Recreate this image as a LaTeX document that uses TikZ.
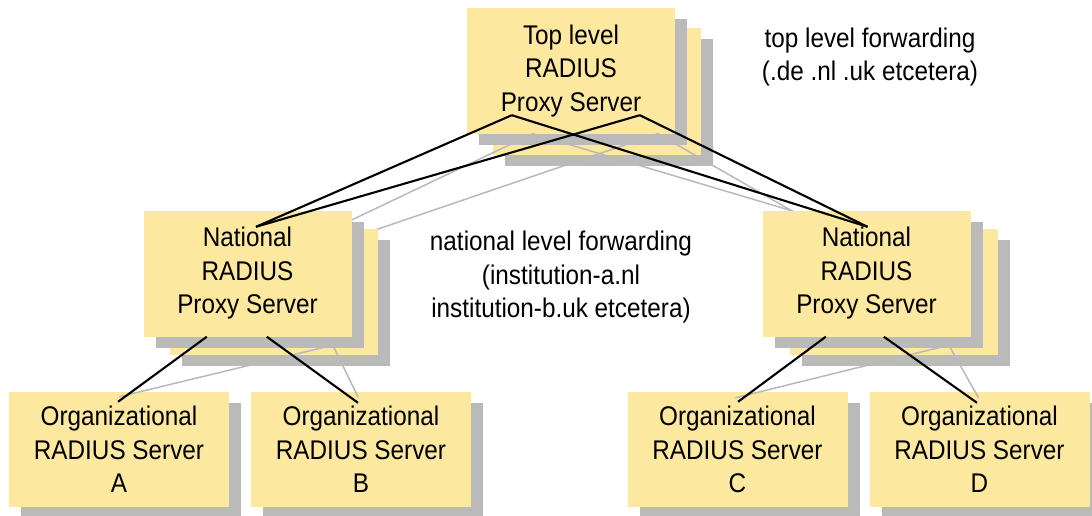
\documentclass[tikz,border=0pt]{standalone}
\usepackage{fontspec}
\setmainfont{Liberation Sans}[FakeStretch=0.9]
\usetikzlibrary{calc,shadows}
\definecolor{boxyellow}{RGB}{252,232,158}
\definecolor{shadowgray}{RGB}{186,186,186}
\definecolor{linegray}{RGB}{185,185,185}
\tikzset{
  srvbox/.style={fill=boxyellow, draw=none, inner sep=0pt,
    minimum width=208pt, minimum height=126pt, align=center,
    font=\fontsize{27}{33.5}\selectfont,
    drop shadow={shadow xshift=12pt, shadow yshift=-11pt, fill=shadowgray, opacity=1}},
  orgbox/.style={srvbox, minimum width=220pt, minimum height=115pt},
  blackline/.style={draw=black, line width=2.1pt},
  grayline/.style={draw=linegray, line width=1.5pt},
  lbl/.style={align=center, inner sep=0pt, font=\fontsize{27}{33.5}\selectfont}
}
\begin{document}
\begin{tikzpicture}[x=1pt,y=-1pt]
\useasboundingbox (0,0) rectangle (1092,516);

% top level stack
\node[srvbox] (topb) at (597,91.5) {};
\node[srvbox] (top) at (571,71) {Top level\\RADIUS\\Proxy Server};

% gray connectors of the back layer (top -> national)
\coordinate (gs1) at ($(topb.south west)+(40,-21)$);
\coordinate (gs2) at ($(topb.south west)+(165,-21)$);
\coordinate (gL1) at ($(topb.south west)+(-193,90)$);
\coordinate (gL2) at ($(topb.south west)+(-193,101)$);
\coordinate (gR1) at ($(topb.south west)+(349,85)$);
\coordinate (gR2) at ($(topb.south west)+(396,85)$);
\draw[grayline] (gs1) -- (gL1);
\draw[grayline] (gs2) -- (gL2);
\draw[grayline] (gs2) -- (gR1);
\draw[grayline] (gs1) -- (gR2);

% national stacks
\node[srvbox] (natLb) at (274,292) {};
\node[srvbox] (natRb) at (893.5,292) {};
\node[srvbox] (natL) at (247.5,273.5) {National\\RADIUS\\Proxy Server};
\node[srvbox] (natR) at (866.5,273.5) {National\\RADIUS\\Proxy Server};

% organizational servers
\node[orgbox] (orgA) at (119,449.5) {Organizational\\RADIUS Server\\A};
\node[orgbox] (orgB) at (361,449.5) {Organizational\\RADIUS Server\\B};
\node[orgbox] (orgC) at (737.5,449.5) {Organizational\\RADIUS Server\\C};
\node[orgbox] (orgD) at (979.5,449.5) {Organizational\\RADIUS Server\\D};

% gray connectors (national -> organizational)
\coordinate (gnL) at ($(natL.south west)+(189.5,8.5)$);
\coordinate (gnR) at ($(natR.south west)+(186.5,8.5)$);
\draw[grayline] (gnL) -- ($(orgA.north)+(0,5)$);
\draw[grayline] (gnL) -- ($(orgB.north)+(-3,5)$);
\draw[grayline] (gnR) -- ($(orgC.north)+(-2,6)$);
\draw[grayline] (gnR) -- ($(orgD.north)+(-1,6)$);

% black connectors (top -> national)
\coordinate (t1) at ($(top.south west)+(45,-19)$);
\coordinate (t2) at ($(top.south west)+(173,-19)$);
\coordinate (nLin) at ($(natL.north)+(8.5,16.5)$);
\coordinate (nRin) at ($(natR.north)+(1,16.5)$);
\draw[blackline] (t1) -- (nLin);
\draw[blackline] (t2) -- (nLin);
\draw[blackline] (t1) -- (nRin);
\draw[blackline] (t2) -- (nRin);

% black connectors (national -> organizational)
\draw[blackline] ($(natL.south west)+(63.5,0)$) -- ($(orgA.north)+(-1,10)$);
\draw[blackline] ($(natL.south west)+(123.5,0)$) -- ($(orgB.north)+(-3,11)$);
\draw[blackline] ($(natR.south west)+(63.5,0)$) -- ($(orgC.north)+(0.5,10)$);
\draw[blackline] ($(natR.south west)+(121.5,0)$) -- ($(orgD.north)+(-2.5,11)$);

% labels
\node[lbl] (lt) at (870,57) {top level forwarding\\(.de .nl .uk etcetera)};
\node[lbl] (ln) at (561,277.5) {national level forwarding\\(institution-a.nl\\institution-b.uk etcetera)};
\end{tikzpicture}
\end{document}
